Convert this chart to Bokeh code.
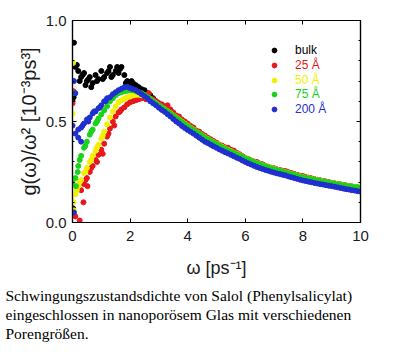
from bokeh.plotting import figure
from bokeh.models import (LinearAxis, FixedTicker, Legend, LegendItem, Range1d,
                          CustomJSTickFormatter, Title)
from bokeh.embed import file_html
from bokeh.resources import INLINE

# ---------------- data ----------------
omega = [round(0.1 * i, 1) for i in range(101)]   # 0.0 ... 10.0 step 0.1

g_bulk = [0.60, 0.77, 0.75, 0.72, 0.74, 0.70, 0.72, 0.69, 0.73, 0.71,
          0.75, 0.72, 0.74, 0.77, 0.73, 0.75, 0.74, 0.77, 0.73, 0.70,
          0.69, 0.69, 0.68, 0.67, 0.66, 0.655, 0.64, 0.63, 0.615, 0.60,
          0.59, 0.578, 0.566, 0.554, 0.544, 0.532, 0.521, 0.511, 0.50, 0.49,
          0.48, 0.47, 0.46, 0.451, 0.442, 0.432, 0.423, 0.414, 0.406, 0.398,
          0.39, 0.383, 0.375, 0.368, 0.361, 0.354, 0.347, 0.34, 0.334, 0.327,
          0.32, 0.314, 0.307, 0.301, 0.295, 0.29, 0.285, 0.28, 0.275, 0.271,
          0.266, 0.262, 0.258, 0.254, 0.25, 0.246, 0.242, 0.238, 0.234, 0.23,
          0.226, 0.223, 0.22, 0.217, 0.214, 0.211, 0.208, 0.205, 0.202, 0.199,
          0.196, 0.193, 0.191, 0.188, 0.186, 0.183, 0.181, 0.178, 0.176, 0.174,
          0.172]
g_25 = [0.59, 0.03, 0.17, 0.16, 0.19, 0.22, 0.25, 0.28, 0.31, 0.335,
        0.36, 0.39, 0.425, 0.465, 0.50, 0.525, 0.545, 0.56, 0.57, 0.585,
        0.595, 0.60, 0.605, 0.61, 0.615, 0.62, 0.625, 0.615, 0.61, 0.60,
        0.59, 0.585, 0.575, 0.58, 0.56, 0.545, 0.53, 0.525, 0.51, 0.50,
        0.49, 0.478, 0.47, 0.455, 0.45, 0.438, 0.43, 0.42, 0.412, 0.403,
        0.395, 0.386, 0.38, 0.372, 0.37, 0.36, 0.356, 0.345, 0.338, 0.328,
        0.32, 0.312, 0.305, 0.302, 0.30, 0.292, 0.288, 0.28, 0.276, 0.27,
        0.268, 0.262, 0.26, 0.256, 0.255, 0.249, 0.245, 0.24, 0.236, 0.232,
        0.23, 0.225, 0.222, 0.218, 0.214, 0.211, 0.208, 0.206, 0.203, 0.199,
        0.196, 0.193, 0.19, 0.189, 0.186, 0.183, 0.18, 0.178, 0.176, 0.174,
        0.172]
g_50 = [0.54, 0.14, 0.18, 0.21, 0.245, 0.27, 0.30, 0.33, 0.355, 0.385,
        0.415, 0.45, 0.485, 0.52, 0.55, 0.575, 0.595, 0.605, 0.612, 0.62,
        0.625, 0.63, 0.632, 0.632, 0.63, 0.625, 0.618, 0.61, 0.60, 0.59,
        0.58, 0.57, 0.561, 0.551, 0.541, 0.53, 0.52, 0.51, 0.50, 0.489,
        0.479, 0.469, 0.46, 0.45, 0.441, 0.431, 0.422, 0.413, 0.405, 0.397,
        0.39, 0.382, 0.374, 0.367, 0.36, 0.353, 0.346, 0.34, 0.333, 0.326,
        0.32, 0.313, 0.306, 0.30, 0.294, 0.289, 0.284, 0.279, 0.274, 0.27,
        0.265, 0.261, 0.257, 0.253, 0.249, 0.245, 0.241, 0.237, 0.233, 0.229,
        0.225, 0.222, 0.219, 0.216, 0.213, 0.21, 0.207, 0.204, 0.201, 0.198,
        0.195, 0.193, 0.19, 0.188, 0.185, 0.183, 0.18, 0.178, 0.176, 0.174,
        0.172]
g_75 = [0.20, 0.22, 0.28, 0.33, 0.37, 0.40, 0.435, 0.46, 0.49, 0.515,
        0.535, 0.555, 0.575, 0.60, 0.615, 0.63, 0.64, 0.645, 0.65, 0.652,
        0.655, 0.655, 0.65, 0.645, 0.64, 0.632, 0.622, 0.612, 0.60, 0.59,
        0.58, 0.571, 0.56, 0.55, 0.54, 0.529, 0.518, 0.508, 0.498, 0.487,
        0.477, 0.468, 0.458, 0.449, 0.44, 0.43, 0.42, 0.412, 0.404, 0.396,
        0.388, 0.38, 0.372, 0.365, 0.358, 0.351, 0.345, 0.338, 0.332, 0.325,
        0.318, 0.311, 0.305, 0.299, 0.293, 0.288, 0.283, 0.278, 0.273, 0.268,
        0.264, 0.26, 0.256, 0.252, 0.248, 0.244, 0.24, 0.236, 0.232, 0.228,
        0.224, 0.221, 0.218, 0.215, 0.212, 0.209, 0.206, 0.203, 0.20, 0.197,
        0.194, 0.192, 0.189, 0.187, 0.184, 0.182, 0.179, 0.177, 0.175, 0.173,
        0.171]
g_200 = [0.48, 0.44, 0.46, 0.47, 0.49, 0.51, 0.52, 0.54, 0.55, 0.565,
         0.58, 0.60, 0.615, 0.62, 0.635, 0.645, 0.655, 0.662, 0.670, 0.672,
         0.665, 0.66, 0.655, 0.645, 0.635, 0.625, 0.615, 0.60, 0.59, 0.58,
         0.568, 0.557, 0.548, 0.536, 0.525, 0.512, 0.50, 0.49, 0.478, 0.468,
         0.458, 0.449, 0.44, 0.43, 0.42, 0.41, 0.40, 0.393, 0.385, 0.377,
         0.37, 0.362, 0.355, 0.348, 0.342, 0.335, 0.328, 0.321, 0.315, 0.307,
         0.30, 0.293, 0.287, 0.281, 0.275, 0.27, 0.265, 0.26, 0.256, 0.251,
         0.247, 0.243, 0.24, 0.236, 0.233, 0.228, 0.224, 0.22, 0.216, 0.212,
         0.208, 0.205, 0.202, 0.199, 0.196, 0.193, 0.19, 0.188, 0.185, 0.182,
         0.18, 0.177, 0.174, 0.171, 0.168, 0.165, 0.163, 0.16, 0.158, 0.155,
         0.153]

# extra scattered points at low frequency
bulk_x = [0.05, 0.02, 0.04, 0.15, 0.25, 0.35, 0.45, 0.55, 0.65, 0.85, 1.05, 1.25, 1.35, 1.55, 1.65, 1.85, 2.05, 2.15]
bulk_y = [0.89, 0.07, 0.62, 0.78, 0.70, 0.73, 0.68, 0.71, 0.67, 0.70, 0.71, 0.75, 0.72, 0.77, 0.76, 0.69, 0.70, 0.68]
r25_x = [0.03, 0.25, 0.38, 0.52, 0.45, 0.65, 0.85, 1.05, 1.25, 1.45, 1.65, 2.45, 2.55, 2.65]
r25_y = [0.65, 0.01, 0.10, 0.18, 0.21, 0.27, 0.30, 0.34, 0.44, 0.48, 0.55, 0.63, 0.61, 0.64]
y50_x = [0.02, 0.05, 0.03, 0.15, 0.25, 0.45, 0.65, 0.85, 1.05]
y50_y = [0.79, 0.06, 0.10, 0.16, 0.20, 0.25, 0.31, 0.37, 0.43]
g75_x = [0.02, 0.12, 0.18, 0.25, 0.45, 0.65, 0.85]
g75_y = [0.64, 0.18, 0.25, 0.31, 0.38, 0.45, 0.50]
b200_x = [0.05, 0.1, 0.2, 0.3, 0.05, 0.35, 0.55, 0.75, 0.95, 1.15]
b200_y = [0.70, 0.64, 0.42, 0.40, 0.05, 0.48, 0.50, 0.55, 0.57, 0.60]

series = ["bulk", "25 Å", "50 Å", "75 Å", "200 Å"]
colors = ["#000000", "#e8171b", "#f2f000", "#19d219", "#1f2fd0"]

x_ticks = [0, 2, 4, 6, 8, 10]
y_ticks = [0.0, 0.5, 1.0]
y_minor = [0.1, 0.2, 0.3, 0.4, 0.6, 0.7, 0.8, 0.9]

caption_lines = [
    "Schwingungszustandsdichte von Salol (Phenylsalicylat)",
    "eingeschlossen in nanoporösem Glas mit verschiedenen",
    "Porengrößen.",
]

# ---------------- figure ----------------
W, H = 400, 352
B_LEFT, B_RIGHT, B_TOP, B_BOTTOM = 72, 40, 20, 130

p = figure(width=W, height=H, output_backend="svg", toolbar_location=None,
           x_range=Range1d(0, 10), y_range=Range1d(0, 1.0),
           min_border_left=B_LEFT, min_border_right=B_RIGHT,
           min_border_top=B_TOP, min_border_bottom=B_BOTTOM)
p.xgrid.visible = False
p.ygrid.visible = False
p.outline_line_color = "black"
p.outline_line_width = 1.2
p.background_fill_color = "white"
p.border_fill_color = "white"

FONT = "Liberation Sans"

def style_axis(ax, ticker, labels=True):
    ax.ticker = ticker
    ax.axis_line_color = "black"
    ax.axis_line_width = 1.2
    ax.major_tick_in = 4
    ax.major_tick_out = 0
    ax.minor_tick_in = 2
    ax.minor_tick_out = 0
    ax.major_tick_line_color = "black"
    ax.minor_tick_line_color = "black"
    ax.major_label_text_font = FONT
    ax.major_label_text_font_size = "15px"
    ax.major_label_text_color = "#1a1a1a"
    if not labels:
        ax.major_label_text_font_size = "0px"
        ax.major_label_text_alpha = 0

style_axis(p.xaxis[0], FixedTicker(ticks=x_ticks))
style_axis(p.yaxis[0], FixedTicker(ticks=y_ticks, minor_ticks=y_minor))
p.xaxis[0].major_label_standoff = 8
p.yaxis[0].major_label_standoff = 6
p.yaxis[0].formatter = CustomJSTickFormatter(code="return tick.toFixed(1);")

p.xaxis[0].axis_label = "ω [ps⁻¹]"
p.yaxis[0].axis_label = "g(ω)/ω² [10⁻³ps³]"
for ax in (p.xaxis[0], p.yaxis[0]):
    ax.axis_label_text_font = FONT
    ax.axis_label_text_font_style = "normal"
    ax.axis_label_text_color = "#1a1a1a"
p.xaxis[0].axis_label_text_font_size = "18px"
p.yaxis[0].axis_label_text_font_size = "20px"
p.xaxis[0].axis_label_standoff = 14
p.yaxis[0].axis_label_standoff = 3

top = LinearAxis()
style_axis(top, FixedTicker(ticks=x_ticks), labels=False)
p.add_layout(top, "above")
right = LinearAxis()
style_axis(right, FixedTicker(ticks=y_ticks, minor_ticks=y_minor), labels=False)
p.add_layout(right, "right")

# ---------------- marks ----------------
main = [g_bulk, g_25, g_50, g_75, g_200]
extra = [(bulk_x, bulk_y), (r25_x, r25_y), (y50_x, y50_y), (g75_x, g75_y), (b200_x, b200_y)]
renderers = []
for name, col, ys, (ex, ey) in zip(series, colors, main, extra):
    r = p.scatter(omega, ys, size=5, color=col, marker="circle")
    p.scatter(ex, ey, size=5, color=col, marker="circle")
    renderers.append(r)

# legend: one small legend per entry so each label gets its own colour
row_bottoms = [165, 150, 135, 121, 106]
for name, col, r, yb in zip(series, colors, renderers, row_bottoms):
    leg = Legend(items=[LegendItem(label=name, renderers=[r])],
                 location=(196, yb), padding=0, margin=0, spacing=0,
                 glyph_width=12, glyph_height=14, label_height=14,
                 label_standoff=15, label_text_font=FONT, label_text_font_size="12px",
                 label_text_color=col, background_fill_alpha=0, border_line_alpha=0)
    p.add_layout(leg, "center")

# ---------------- caption below the x axis ----------------
cap = Title(text="\n".join(caption_lines), align="left", offset=-67, standoff=9,
            text_font="Liberation Serif", text_font_size="15.5px", text_font_style="normal",
            text_color="black", text_line_height=1.13)
p.add_layout(cap, "below")

open("out.html", "w").write(file_html(p, INLINE))
